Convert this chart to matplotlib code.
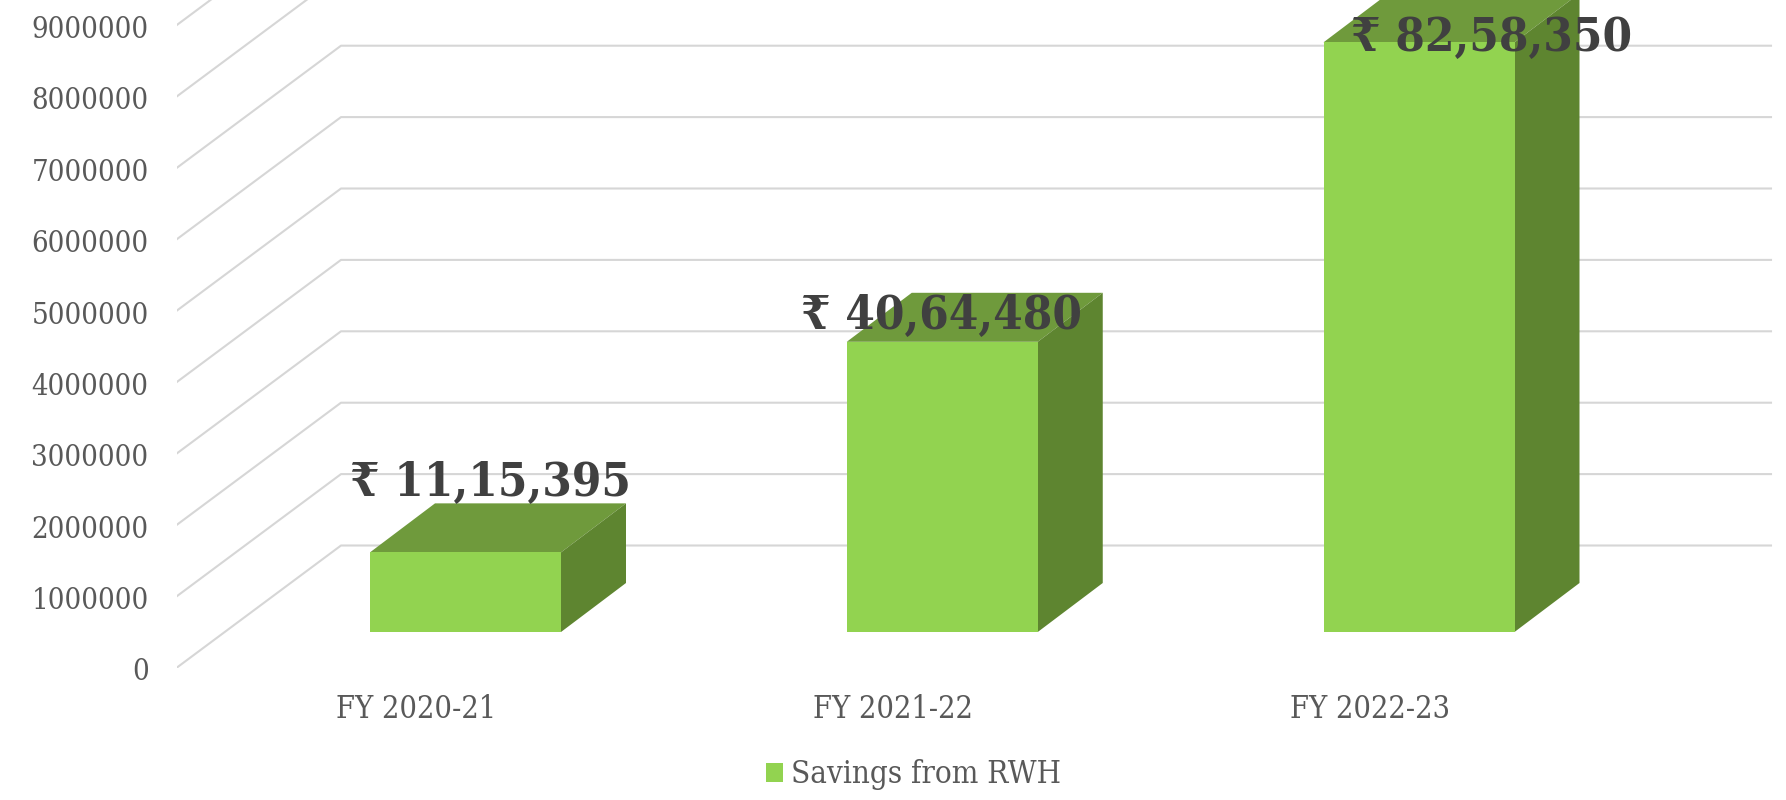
import matplotlib
matplotlib.use("Agg")
import matplotlib.pyplot as plt
from matplotlib.transforms import ScaledTranslation

categories = ["FY 2020-21", "FY 2021-22", "FY 2022-23"]
savings = [1115395, 4064480, 8258350]
value_labels = ["₹ 11,15,395", "₹ 40,64,480", "₹ 82,58,350"]
y_ticks = [0, 1000000, 2000000, 3000000, 4000000, 5000000, 6000000, 7000000, 8000000, 9000000]

plt.rcParams["font.family"] = ["DejaVu Serif", "DejaVu Sans"]
plt.rcParams["font.stretch"] = "condensed"

green = "#92D350"
green_top = "#6F9A3C"
green_side = "#5E8530"
grid_color = "#D6D6D6"
tick_color = "#595959"
label_color = "#404040"

width_px, height_px = 1786, 800
left_px, zero_px = 177, 667.5
x0_px, px_per_cat = 465.5, 476.75  # centre of first bar, spacing between bars
px_per_value = 71.4 / 1000000

fig = plt.figure(figsize=(width_px / 100, height_px / 100), dpi=100)
ax = fig.add_axes([
    left_px / width_px,
    (height_px - zero_px) / height_px,
    1 - left_px / width_px,
    zero_px / height_px,
])
ax.set_xlim((left_px - x0_px) / px_per_cat, (width_px - x0_px) / px_per_cat)
ax.set_ylim(0, zero_px / px_per_value)
for spine in ax.spines.values():
    spine.set_visible(False)


def dx(px):
    return px / px_per_cat


def dy(px):
    return px / px_per_value


# fake 3d: wall is pushed back from the axis, bars stand on the floor between
x_left = ax.get_xlim()[0]
x_wall = x_left + dx(164)
x_right = dx(1305.5)
wall_rise = dy(122)
for tick in y_ticks:
    ax.plot(
        [x_left, x_wall, x_right],
        [tick, tick + wall_rise, tick + wall_rise],
        color=grid_color,
        linewidth=1.5,
        zorder=1,
    )

positions = list(range(len(categories)))
bar_width = 191 / px_per_cat
floor = dy(35.5)
depth_x, depth_y = dx(65), dy(49)

ax.bar(
    positions,
    savings,
    width=bar_width,
    bottom=floor,
    color=green,
    zorder=4,
    label="Savings from RWH",
)
for pos, value in zip(positions, savings):
    x1 = pos - bar_width / 2
    x2 = pos + bar_width / 2
    top = floor + value
    ax.fill(
        [x1, x2, x2 + depth_x, x1 + depth_x],
        [top, top, top + depth_y, top + depth_y],
        color=green_top,
        linewidth=0,
        zorder=3,
    )
    ax.fill(
        [x2, x2 + depth_x, x2 + depth_x, x2],
        [floor, floor + depth_y, top + depth_y, top],
        color=green_side,
        linewidth=0,
        zorder=3,
    )

# labels were moved by hand in the original, so each one has its own offset
label_offsets = [(25, 69), (-1, 26), (73, 4)]
for pos, value, text, offset in zip(positions, savings, value_labels, label_offsets):
    ax.annotate(
        text,
        xy=(pos, floor + value),
        xytext=offset,
        textcoords="offset pixels",
        ha="center",
        va="center",
        fontsize=34,
        fontweight="bold",
        fontstretch="condensed",
        color=label_color,
        zorder=6,
        annotation_clip=False,
    )

ax.set_yticks(y_ticks, [str(t) for t in y_ticks])
ax.set_xticks([p - dx(49.5) for p in positions], categories)
ax.tick_params(axis="y", length=0, pad=20.5, labelsize=21, labelcolor=tick_color)
ax.tick_params(axis="x", length=0, pad=19, labelsize=22, labelcolor=tick_color)
nudge = ScaledTranslation(0, -2 / 100, fig.dpi_scale_trans)
for label in ax.get_yticklabels():
    label.set_transform(label.get_transform() + nudge)

handles, labels = ax.get_legend_handles_labels()
fig.legend(
    handles,
    labels,
    loc="center",
    bbox_to_anchor=(913 / width_px, 1 - 775 / height_px),
    frameon=False,
    fontsize=22.5,
    handlelength=0.55,
    handleheight=0.55,
    handletextpad=0.25,
    labelcolor=tick_color,
    borderpad=0,
)

fig.savefig("out.png", dpi=100)
